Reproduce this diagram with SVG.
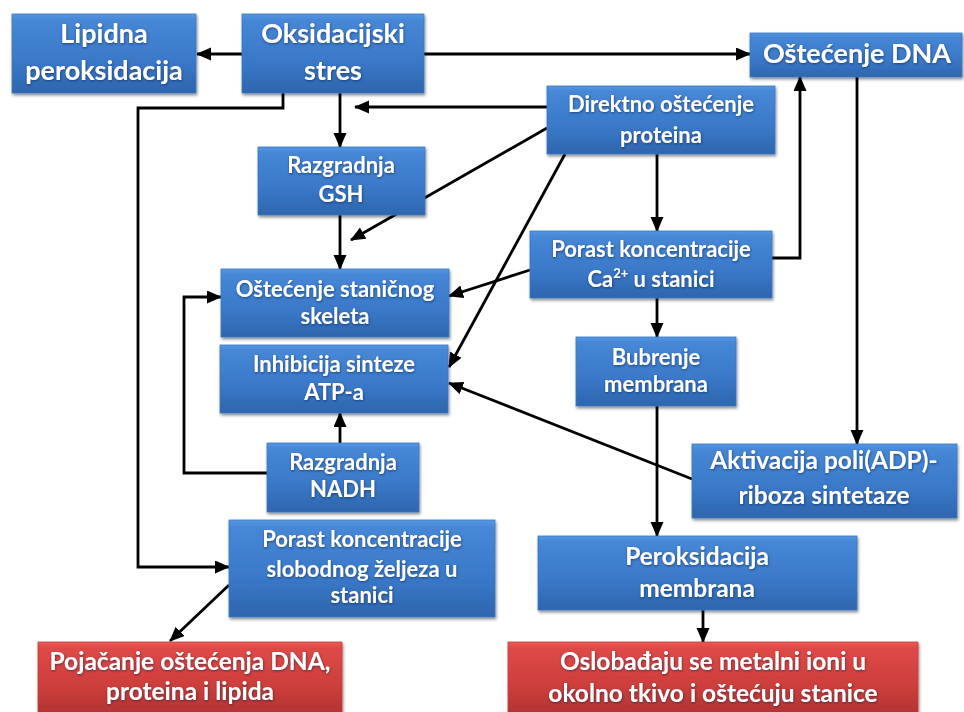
<svg xmlns="http://www.w3.org/2000/svg" width="964" height="712" viewBox="0 0 964 712">
<style>
.box{fill:url(#gb);stroke:#3a78c4;stroke-width:0.8;filter:url(#sh)}
.red{fill:url(#gr);stroke:#c04040;stroke-width:0.8;filter:url(#sh)}
.t{font-family:Lato,"Open Sans","Liberation Sans",sans-serif;font-weight:700;fill:#fff;text-anchor:middle;filter:url(#ts)}
.s1{font-size:27px}
.s2{font-size:22px}
.s3{font-size:24.5px}
.c{fill:none;stroke:#000;stroke-width:2.8}
.a{marker-end:url(#ar)}
</style>
<defs>
<linearGradient id="gb" x1="0" y1="0" x2="0" y2="1">
<stop offset="0" stop-color="#5497e0"/>
<stop offset="0.08" stop-color="#4687d6"/>
<stop offset="0.6" stop-color="#3a78c8"/>
<stop offset="1" stop-color="#2e65ad"/>
</linearGradient>
<linearGradient id="gr" x1="0" y1="0" x2="0" y2="1">
<stop offset="0" stop-color="#ec5a56"/>
<stop offset="0.08" stop-color="#de4a47"/>
<stop offset="0.6" stop-color="#cc3e3b"/>
<stop offset="1" stop-color="#b03232"/>
</linearGradient>
<filter id="sh" x="-10%" y="-10%" width="130%" height="140%">
<feDropShadow dx="1" dy="2" stdDeviation="1.5" flood-color="#000" flood-opacity="0.45"/>
</filter>
<filter id="ts" x="-10%" y="-30%" width="120%" height="160%">
<feDropShadow dx="0.5" dy="1" stdDeviation="0.8" flood-color="#0a1a40" flood-opacity="0.6"/>
</filter>
<marker id="ar" markerUnits="userSpaceOnUse" markerWidth="16" markerHeight="14" refX="14" refY="6.5" orient="auto">
<path d="M0,0 L15,6.5 L0,13 z" fill="#000"/>
</marker>
</defs>
<g id="connectors">
<path class="c a" d="M242,54 H197"/>
<path class="c a" d="M424,54 H750"/>
<path class="c a" d="M283,93 V108 H138 V567 H229"/>
<path class="c a" d="M340,93 V147"/>
<path class="c a" d="M547,107 H355"/>
<path class="c a" d="M547,128 L351,240"/>
<path class="c a" d="M340,215 V269"/>
<path class="c a" d="M565,154 L449,367"/>
<path class="c a" d="M657,154 V231"/>
<path class="c a" d="M772,258 H800 V77"/>
<path class="c a" d="M530,270 L449,296"/>
<path class="c a" d="M657,298 V337"/>
<path class="c a" d="M857,77 V444"/>
<path class="c a" d="M692,479 L449,383"/>
<path class="c a" d="M657,406 V536"/>
<path class="c a" d="M340,443 V413"/>
<path class="c a" d="M267,473 H184 V297 H221"/>
<path class="c a" d="M229,585 L170,641"/>
<path class="c a" d="M703,610 V642"/>
</g>
<g id="n1"><rect class="box" x="12" y="14" width="184" height="79"/><text class="t s1" x="104" y="43">Lipidna</text><text class="t s1" x="104" y="80">peroksidacija</text></g>
<g id="n2"><rect class="box" x="242" y="14" width="182" height="79"/><text class="t s1" x="333" y="43">Oksidacijski</text><text class="t s1" x="333" y="80">stres</text></g>
<g id="n3"><rect class="box" x="750" y="33" width="212" height="44"/><text class="t s1" x="857" y="63">Oštećenje DNA</text></g>
<g id="n4"><rect class="box" x="547" y="86" width="228" height="68"/><text class="t s2" x="661" y="112">Direktno oštećenje</text><text class="t s2" x="661" y="143">proteina</text></g>
<g id="n5"><rect class="box" x="258" y="147" width="167" height="68"/><text class="t s2" x="341" y="173">Razgradnja</text><text class="t s2" x="341" y="202">GSH</text></g>
<g id="n6"><rect class="box" x="530" y="231" width="242" height="67"/><text class="t s2" x="651" y="257">Porast koncentracije</text><text class="t s2" x="651" y="287">Ca<tspan font-size="13" dy="-9">2+</tspan><tspan dy="9"> u stanici</tspan></text></g>
<g id="n7"><rect class="box" x="221" y="269" width="228" height="68"/><text class="t s2" x="335" y="297">Oštećenje staničnog</text><text class="t s2" x="335" y="324">skeleta</text></g>
<g id="n8"><rect class="box" x="220" y="345" width="228" height="68"/><text class="t s2" x="334" y="372">Inhibicija sinteze</text><text class="t s2" x="334" y="400">ATP-a</text></g>
<g id="n9"><rect class="box" x="267" y="443" width="152" height="69"/><text class="t s2" x="343" y="470">Razgradnja</text><text class="t s2" x="343" y="497">NADH</text></g>
<g id="n10"><rect class="box" x="576" y="337" width="160" height="69"/><text class="t s2" x="656" y="365">Bubrenje</text><text class="t s2" x="656" y="392">membrana</text></g>
<g id="n11"><rect class="box" x="692" y="444" width="265" height="74"/><text class="t s3" x="824" y="469">Aktivacija poli(ADP)-</text><text class="t s3" x="824" y="504">riboza sintetaze</text></g>
<g id="n12"><rect class="box" x="229" y="520" width="266" height="97"/><text class="t s2" x="362" y="547">Porast koncentracije</text><text class="t s2" x="362" y="577">slobodnog željeza u</text><text class="t s2" x="362" y="603">stanici</text></g>
<g id="n13"><rect class="box" x="538" y="536" width="319" height="74"/><text class="t s3" x="697" y="565">Peroksidacija</text><text class="t s3" x="697" y="597">membrana</text></g>
<g id="n14"><rect class="red" x="38" y="642" width="304" height="74"/><text class="t s3" x="190" y="670">Pojačanje oštećenja DNA,</text><text class="t s3" x="190" y="700">proteina i lipida</text></g>
<g id="n15"><rect class="red" x="508" y="642" width="410" height="74"/><text class="t s3" x="713" y="670">Oslobađaju se metalni ioni u</text><text class="t s3" x="713" y="702">okolno tkivo i oštećuju stanice</text></g>
</svg>
